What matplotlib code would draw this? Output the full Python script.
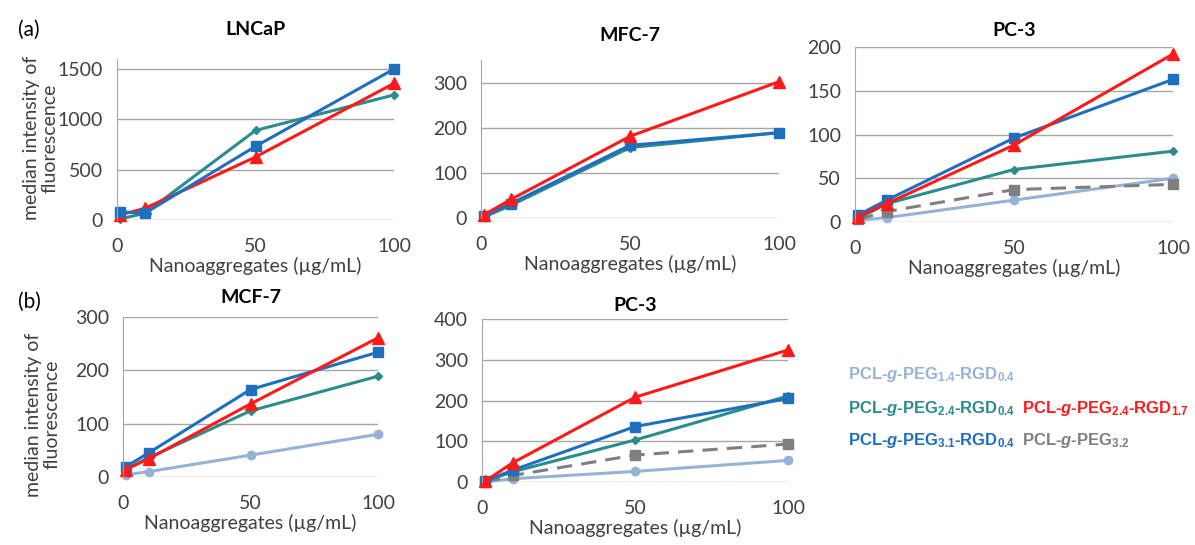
# Cellular uptake of nanoaggregates: median fluorescence vs concentration
import matplotlib
matplotlib.use("Agg")
import matplotlib.pyplot as plt

plt.rcParams["font.family"] = ["Lato", "DejaVu Sans"]
plt.rcParams["mathtext.fontset"] = "custom"
plt.rcParams["mathtext.rm"] = "Liberation Sans:bold"
plt.rcParams["mathtext.it"] = "Liberation Sans:bold:italic"
plt.rcParams["mathtext.bf"] = "Liberation Sans:bold"

# concentrations (ug/mL)
conc = [1, 10, 50, 100]

# (a) LNCaP
lncap_peg31 = [82, 66, 732, 1500]
lncap_rgd17 = [50, 115, 626, 1358]
lncap_peg24 = [10, 66, 890, 1243]

# (a) MFC-7
mfc7_peg31 = [4, 32, 161, 189]
mfc7_rgd17 = [7, 41, 181, 302]
mfc7_peg24 = [2, 28, 156, 189]

# (a) PC-3
pc3a_peg14 = [2, 5, 25, 50]
pc3a_peg24 = [4, 21, 60, 81]
pc3a_rgd17 = [6, 21, 88, 192]
pc3a_peg31 = [8, 25, 96, 163]
pc3a_peg32 = [3, 12, 37, 43]

# (b) MCF-7
mcf7_peg14 = [4, 10, 41, 80]
mcf7_peg24 = [14, 36, 124, 189]
mcf7_rgd17 = [14, 34, 137, 261]
mcf7_peg31 = [19, 45, 164, 234]

# (b) PC-3
pc3b_peg14 = [0, 8, 26, 53]
pc3b_peg32 = [0, 16, 66, 93]
pc3b_peg24 = [2, 25, 103, 211]
pc3b_peg31 = [2, 29, 136, 205]
pc3b_rgd17 = [2, 47, 208, 324]

c_peg14 = "#95B3D7"
c_peg24 = "#2A8C8C"
c_rgd17 = "#FF1A1A"
c_peg31 = "#1F6FBF"
c_peg32 = "#7F7F7F"

W, H = 1195, 545
fig = plt.figure(figsize=(W / 100, H / 100), dpi=100)


def make_ax(x0, x1, y0, y1):
    return fig.add_axes([x0 / W, 1 - y1 / H, (x1 - x0) / W, (y1 - y0) / H])


def style(ax, ymax, yticks, title, tpad, ylab_xy=None):
    ax.set_xlim(0, 100)
    ax.set_ylim(0, ymax)
    ax.set_xticks([0, 50, 100])
    ax.set_yticks(yticks)
    for s in ["top", "right", "bottom"]:
        ax.spines[s].set_visible(False)
    ax.spines["left"].set_color("#A6A6A6")
    ax.yaxis.grid(True, color="#A6A6A6", lw=1)
    ax.set_axisbelow(True)
    ax.tick_params(length=0, labelsize=14, colors="#404040", pad=10)
    ax.tick_params(axis="x", pad=13)
    ax.set_xlabel("Nanoaggregates (µg/mL)", fontsize=14, color="#404040", labelpad=1)
    ax.set_title(title, fontsize=14, fontweight="bold", pad=tpad)
    if ylab_xy is not None:
        ax.set_ylabel("median intensity of\nfluorescence", fontsize=14,
                      color="#404040", linespacing=1.1)
        ax.yaxis.set_label_coords(*ylab_xy)


def series(ax, y, color, marker, ms, ls="-"):
    ax.plot(conc, y, color=color, marker=marker, ms=ms, lw=2.2, ls=ls,
            dashes=(5, 3) if ls == "--" else (None, None), clip_on=False)


# (a) LNCaP
ax1 = make_ax(117, 394, 59, 220)
series(ax1, lncap_peg24, c_peg24, "D", 4)
series(ax1, lncap_rgd17, c_rgd17, "^", 8)
series(ax1, lncap_peg31, c_peg31, "s", 7)
style(ax1, 1600, [0, 500, 1000, 1500], "LNCaP", 17, ylab_xy=(-0.21, 0.51))

# (a) MFC-7
ax2 = make_ax(481, 779, 60, 218)
series(ax2, mfc7_peg24, c_peg24, "D", 4)
series(ax2, mfc7_peg31, c_peg31, "s", 7)
series(ax2, mfc7_rgd17, c_rgd17, "^", 8)
style(ax2, 350, [0, 100, 200, 300], "MFC-7", 14)

# (a) PC-3
ax3 = make_ax(855, 1173, 47, 222)
series(ax3, pc3a_peg14, c_peg14, "o", 6)
series(ax3, pc3a_peg32, c_peg32, "s", 7, ls="--")
series(ax3, pc3a_peg24, c_peg24, "D", 4)
series(ax3, pc3a_peg31, c_peg31, "s", 7)
series(ax3, pc3a_rgd17, c_rgd17, "^", 8)
style(ax3, 200, [0, 50, 100, 150, 200], "PC-3", 8)

# (b) MCF-7
ax4 = make_ax(123, 378, 317, 477)
series(ax4, mcf7_peg14, c_peg14, "o", 6)
series(ax4, mcf7_peg24, c_peg24, "D", 4)
series(ax4, mcf7_peg31, c_peg31, "s", 7)
series(ax4, mcf7_rgd17, c_rgd17, "^", 8)
style(ax4, 300, [0, 100, 200, 300], "MCF-7", 10, ylab_xy=(-0.245, 0.39))

# (b) PC-3
ax5 = make_ax(482, 788, 319, 482)
series(ax5, pc3b_peg14, c_peg14, "o", 6)
series(ax5, pc3b_peg32, c_peg32, "s", 7, ls="--")
series(ax5, pc3b_peg24, c_peg24, "D", 4)
series(ax5, pc3b_peg31, c_peg31, "s", 7)
series(ax5, pc3b_rgd17, c_rgd17, "^", 8)
style(ax5, 400, [0, 100, 200, 300, 400], "PC-3", 6)

fig.text(18 / W, 1 - 30 / H, "(a)", fontsize=15, va="center")
fig.text(18 / W, 1 - 302 / H, "(b)", fontsize=15, va="center")

# text legend
leg = dict(fontsize=12, fontweight="bold", va="center", family="Liberation Sans")
fig.text(848 / W, 1 - 374 / H, r"PCL-$\mathit{g}$-PEG$_{1.4}$-RGD$_{0.4}$", color=c_peg14, **leg)
fig.text(848 / W, 1 - 408 / H, r"PCL-$\mathit{g}$-PEG$_{2.4}$-RGD$_{0.4}$", color=c_peg24, **leg)
fig.text(1022 / W, 1 - 408 / H, r"PCL-$\mathit{g}$-PEG$_{2.4}$-RGD$_{1.7}$", color=c_rgd17, **leg)
fig.text(848 / W, 1 - 441 / H, r"PCL-$\mathit{g}$-PEG$_{3.1}$-RGD$_{0.4}$", color=c_peg31, **leg)
fig.text(1022 / W, 1 - 441 / H, r"PCL-$\mathit{g}$-PEG$_{3.2}$", color=c_peg32, **leg)

fig.savefig("out.png", dpi=100)
